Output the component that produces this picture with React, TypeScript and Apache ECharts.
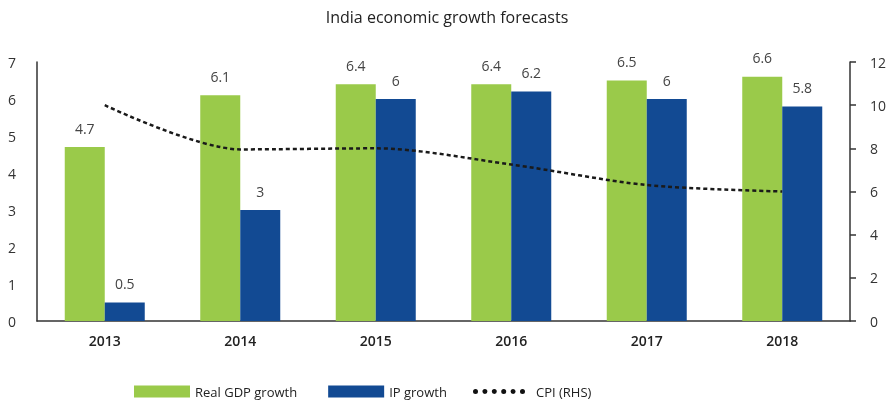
import React, { useEffect, useRef } from "react";
import * as echarts from "echarts";

const categories = ["2013", "2014", "2015", "2016", "2017", "2018"];
const gdpGrowth = [4.7, 6.1, 6.4, 6.4, 6.5, 6.6];
const ipGrowth = [0.5, 3, 6, 6.2, 6, 5.8];
const cpi = [10.0, 7.95, 8.0, 7.25, 6.3, 6.0];

const FONT = "'Open Sans', 'Noto Sans', sans-serif";
const GREEN = "#9aca4a";
const BLUE = "#124a93";

function dotsPath(): string {
  const r = 2.5;
  const parts: string[] = [];
  for (let i = 0; i < 6; i++) {
    const cx = 2.5 + i * 9.4;
    parts.push(`M${cx - r},${r}A${r},${r} 0 1,0 ${cx + r},${r}A${r},${r} 0 1,0 ${cx - r},${r}Z`);
  }
  return "path://" + parts.join("");
}

export default function App() {
  const ref = useRef<HTMLDivElement>(null);
  useEffect(() => {
    if (!ref.current) return;
    const chart = echarts.init(ref.current, null, { renderer: "svg" });
    const labelStyle = {
      show: true,
      position: "top" as const,
      distance: 12,
      color: "#444",
      fontSize: 14,
      fontFamily: FONT,
    };
    chart.setOption({
      animation: false,
      title: {
        text: "India economic growth forecasts",
        left: "center",
        top: 4,
        textStyle: { fontSize: 16, fontWeight: "normal", color: "#222", fontFamily: FONT },
      },
      grid: { left: 37, right: 44, top: 62, bottom: 82, containLabel: false },
      legend: [
        {
          data: ["Real GDP growth", "IP growth"],
          left: 129,
          top: 380,
          itemWidth: 56,
          itemHeight: 12,
          itemGap: 31,
          icon: "rect",
          textStyle: { fontSize: 13, color: "#222", fontFamily: FONT },
        },
        {
          data: [{ name: "CPI (RHS)", icon: dotsPath() }],
          left: 468,
          top: 380,
          itemWidth: 52,
          itemHeight: 5,
          textStyle: {
            fontSize: 13,
            color: "#222",
            fontFamily: FONT,
            padding: [0, 0, 0, 6],
          },
          itemStyle: { color: "#111", borderWidth: 0 },
        },
      ],
      xAxis: {
        type: "category",
        data: categories,
        axisLine: { lineStyle: { color: "#333", width: 1.5 } },
        axisTick: { show: false },
        axisLabel: {
          margin: 12,
          fontSize: 14,
          fontWeight: 600,
          color: "#222",
          fontFamily: FONT,
        },
      },
      yAxis: [
        {
          type: "value",
          min: 0,
          max: 7,
          interval: 1,
          splitLine: { show: false },
          axisLine: { show: true, lineStyle: { color: "#333", width: 1.5 } },
          axisTick: { show: false },
          axisLabel: { margin: 21, fontSize: 14, color: "#333", fontFamily: FONT },
        },
        {
          type: "value",
          min: 0,
          max: 12,
          interval: 2,
          position: "right",
          splitLine: { show: false },
          axisLine: { show: true, lineStyle: { color: "#333", width: 1.5 } },
          axisTick: { show: true, length: 6, lineStyle: { color: "#333", width: 1.5 } },
          axisLabel: { margin: 20, fontSize: 14, color: "#333", fontFamily: FONT },
        },
      ],
      series: [
        {
          name: "Real GDP growth",
          type: "bar",
          data: gdpGrowth,
          barWidth: 40,
          barGap: "0%",
          itemStyle: { color: GREEN },
          label: labelStyle,
        },
        {
          name: "IP growth",
          type: "bar",
          data: ipGrowth,
          barWidth: 40,
          barGap: "0%",
          itemStyle: { color: BLUE },
          label: labelStyle,
        },
        {
          name: "CPI (RHS)",
          type: "line",
          yAxisIndex: 1,
          data: cpi,
          smooth: 0.3,
          symbol: "none",
          lineStyle: { color: "#1a1a1a", width: 2.5, type: [4, 3] },
          itemStyle: { color: "#111" },
        },
      ],
    });
    return () => chart.dispose();
  }, []);
  return (
    <div
      ref={ref}
      style={{ position: "fixed", left: 0, top: 0, width: 894, height: 403 }}
    />
  );
}
